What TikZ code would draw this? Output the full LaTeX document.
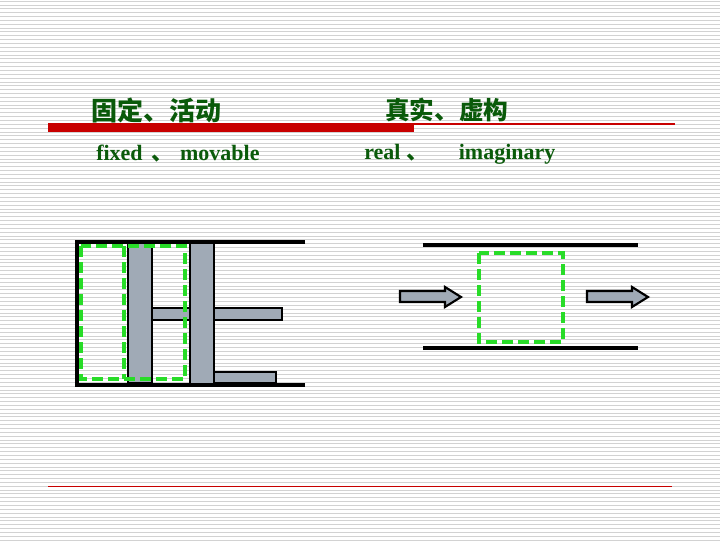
\documentclass[tikz,border=0pt]{standalone}
\usepackage{fontspec}
\setmainfont{Liberation Serif}
\newfontfamily\cjk{Noto Sans CJK SC}
\begin{document}
\begin{tikzpicture}[x=0.75pt,y=-0.75pt,
  wall/.style={line width=2.4pt,black},
  bar/.style={fill=barg,draw=black,line width=1.8pt},
  gdash/.style={draw=dgreen,line width=2.8pt,dash pattern=on 8pt off 4pt},
  lbl/.style={text=tgreen,anchor=west,inner sep=0pt},
  barrow/.style={fill=barg,draw=black,line width=1.6pt}]
\definecolor{barg}{RGB}{160,170,182}
\definecolor{dgreen}{RGB}{40,220,40}
\definecolor{tgreen}{RGB}{10,90,10}
\definecolor{rd}{RGB}{200,0,0}
\useasboundingbox (0,0) rectangle (720,540);
\fill[white] (0,0) rectangle (720,540);
\foreach \i in {0,...,140} \draw[gray!35,line width=0.5pt] (0,3.85*\i+1) -- (720,3.85*\i+1);
% header
\fill[rd] (48,123) rectangle (414,132);
\draw[rd,line width=0.8pt] (414,124) -- (675,124);
\draw[rd,line width=0.6pt] (48,486) -- (672,486);
\node[lbl,font=\cjk\bfseries\fontsize{19.5}{19.5}\selectfont] (t1) at (91,110) {固定、活动};
\node[lbl,font=\cjk\bfseries\fontsize{18.5}{18.5}\selectfont] (t2) at (385,110) {真实、虚构};
\node[lbl,font=\bfseries\fontsize{16.5}{16.5}\selectfont] (e1) at (96,154) {fixed\hspace{0.4em}{\cjk 、}\hspace{0.3em}movable};
\node[lbl,font=\bfseries\fontsize{16.5}{16.5}\selectfont] (e2) at (364,154) {real {\cjk 、}\hspace{1.4em}imaginary};
% left cylinder
\draw[bar] (152,308) rectangle (282,320);
\draw[bar] (214,372) rectangle (276,383);
\draw[bar] (128,242) rectangle (152,383);
\draw[bar] (190,242) rectangle (214,385);
\draw[gdash] (81,246) rectangle (185,379);
\draw[gdash] (124,246) -- (124,379);
\draw[wall] (305,242) -- (77,242) -- (77,385) -- (305,385);
% right channel
\draw[wall] (423,245) -- (638,245);
\draw[wall] (423,348) -- (638,348);
\draw[gdash] (479,253) rectangle (563,342);
\draw[barrow] (400,291) -- (445,291) -- (445,287) -- (461,297) -- (445,307) -- (445,302) -- (400,302) -- cycle;
\draw[barrow] (587,291) -- (632,291) -- (632,287) -- (648,297) -- (632,307) -- (632,302) -- (587,302) -- cycle;
\end{tikzpicture}
\end{document}
